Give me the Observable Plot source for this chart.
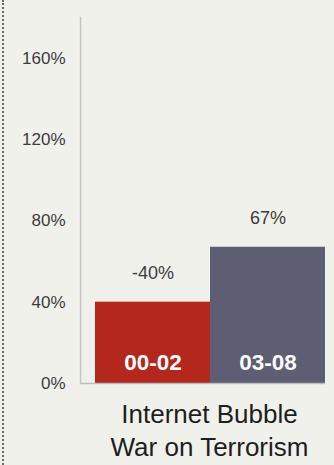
<!DOCTYPE html>
<html><head><meta charset="utf-8">
<script src="https://cdn.jsdelivr.net/npm/d3@7"></script>
<script src="https://cdn.jsdelivr.net/npm/@observablehq/plot@0.6"></script>
<style>
html,body{margin:0;padding:0;background:#f1f1ec;}
#wrap{position:relative;width:334px;height:465px;overflow:hidden;}
#dots{position:absolute;left:2px;top:0;width:0;height:465px;border-left:2px dotted #6b6b6b;}
#chart{position:absolute;left:0;top:0;}
</style></head><body><div id="wrap"><div id="dots"></div><div id="chart"></div></div>
<script>
const periods = ["00-02", "03-08"];
const values = [40, 67];
const valueLabels = ["-40%", "67%"];
const yTicks = [0, 40, 80, 120, 160];
const eras = ["Internet Bubble", "War on Terrorism"];
const colors = ["#b3271d", "#5d5d73"];

const data = periods.map((p, i) => ({period: p, value: values[i], label: valueLabels[i], color: colors[i]}));
const font = '"Liberation Sans",Arial,sans-serif';

const chart = Plot.plot({
  width: 334, height: 465, marginLeft: 80, marginRight: 9, marginTop: 17, marginBottom: 82,
  style: {background: "transparent", fontFamily: font, color: "#444", overflow: "visible"},
  x: {domain: periods, paddingInner: 0, paddingOuter: 0.0652, align: 1, axis: null},
  y: {domain: [0, 180], label: null},
  marks: [
    Plot.barY(data, {x: "period", y: "value", fill: "color"}),
    Plot.ruleY([0], {stroke: "#bdbdbd", strokeWidth: 1.5}),
    Plot.frame({anchor: "left", stroke: "#c4c4c4", strokeWidth: 1.5}),
    Plot.axisY({ticks: yTicks, tickSize: 0, tickPadding: 15, fontSize: 17, fill: "#3c3c3c", tickFormat: d => d + "%", label: null}),
    Plot.text(data, {x: "period", y: "value", text: "label", dy: -29, fontSize: 18, fill: "#3c3c3c"}),
    Plot.text(data, {x: "period", y: 0, text: "period", dy: -21, fontSize: 22.5, fontWeight: "bold", fill: "#fff"}),
    Plot.text([eras.join("\n")], {frameAnchor: "bottom", lineAnchor: "top", dx: 6.5, dy: 16, fontSize: 26, lineHeight: 1.27, fill: "#1e1e1e"})
  ]
});
document.getElementById("chart").append(chart);
</script></body></html>
